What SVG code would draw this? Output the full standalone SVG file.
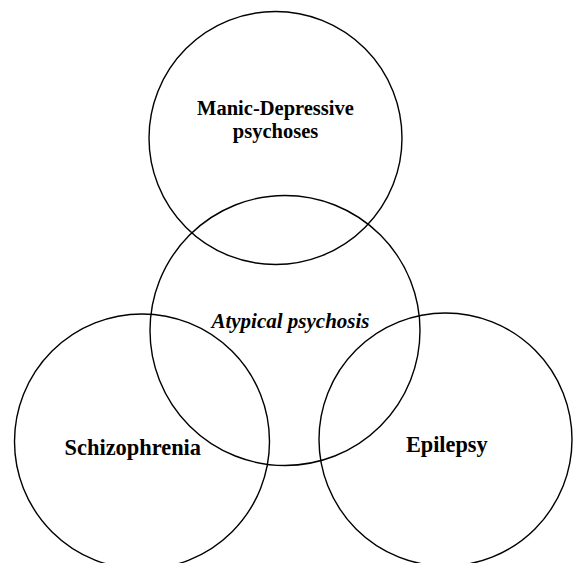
<svg xmlns="http://www.w3.org/2000/svg" width="573" height="563" viewBox="0 0 573 563">
<style>
.c{fill:none;stroke:#000;stroke-width:1.4}
.t{font-family:"Liberation Serif","Times New Roman",serif;font-weight:bold;text-anchor:middle;fill:#000}
</style>
<rect width="573" height="563" fill="#fff"/>
<g id="manic">
<circle class="c" cx="275.5" cy="138" r="126.5"/>
<text class="t" x="275.5" y="115" font-size="20.5">Manic-Depressive</text>
<text class="t" x="275.5" y="138" font-size="20.5">psychoses</text>
</g>
<g id="atypical">
<circle class="c" cx="285" cy="330.5" r="135"/>
<text class="t" x="290.5" y="327.5" font-size="21" font-style="italic">Atypical psychosis</text>
</g>
<g id="schizophrenia">
<circle class="c" cx="142" cy="441.5" r="127.5"/>
<text class="t" x="132.8" y="455" font-size="22.4">Schizophrenia</text>
</g>
<g id="epilepsy">
<circle class="c" cx="445.5" cy="439.5" r="126.5"/>
<text class="t" x="446.8" y="451.7" font-size="22.3">Epilepsy</text>
</g>
<g id="connectors"></g>
</svg>
